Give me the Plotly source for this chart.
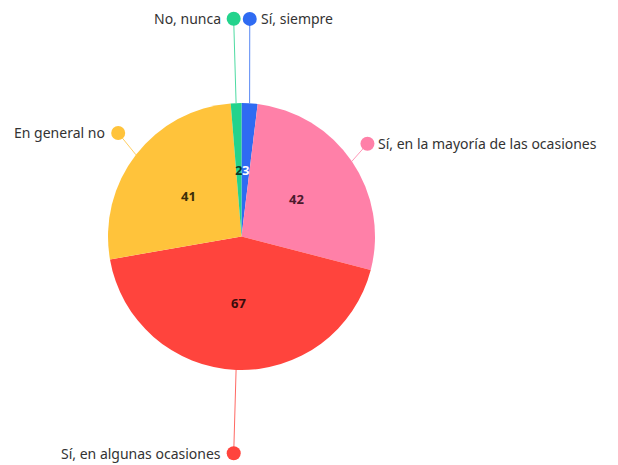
import math
import plotly.graph_objects as go

# ---- data ----
categories = ["Sí, siempre", "Sí, en la mayoría de las ocasiones",
              "Sí, en algunas ocasiones", "En general no", "No, nunca"]
values = [3, 42, 67, 41, 2]

# ---- style ----
colors = ["#2F6BF2", "#FF80A8", "#FF443D", "#FFC33B", "#23D38C"]
value_font_colors = ["#ffffff", "#4a1a2c", "#3a0c0c", "#3b2e08", "#0e3a26"]
label_radius = [218, 156, 217, 161, 218]  # px from pie center (leader-line end)
label_nudge_x = [-5, -3, 1, 4, 1]         # small layout nudges of label dots (px)
label_nudge_y = [0, -5, 0, -5, 0]
PAGE_OFF = 8  # default body margin of the html page
W, H = 618 - PAGE_OFF, 465 - PAGE_OFF
CX, CY, R = 241.5 - PAGE_OFF, 236.5 - PAGE_OFF, 133.5
VALUE_R = 0.5 * R

fig = go.Figure()
fig.add_trace(go.Pie(
    labels=categories, values=values, sort=False, direction="clockwise",
    rotation=0, textinfo="none", hoverinfo="label+value",
    marker=dict(colors=colors, line=dict(width=0)),
    domain=dict(x=[(CX - R) / W, (CX + R) / W],
                y=[(H - CY - R) / H, (H - CY + R) / H]),
    showlegend=False,
))

total = sum(values)
cum = 0
annotations = []
for i, (cat, v) in enumerate(zip(categories, values)):
    mid = (cum + v / 2) / total * 2 * math.pi
    cum += v
    sx, sy = math.sin(mid), -math.cos(mid)
    x0, y0 = CX + R * sx, CY + R * sy
    x1 = CX + label_radius[i] * sx + label_nudge_x[i]
    y1 = CY + label_radius[i] * sy + label_nudge_y[i]
    fig.add_trace(go.Scatter(x=[x0, x1], y=[y0, y1], mode="lines",
                             line=dict(color=colors[i], width=1),
                             opacity=0.8, hoverinfo="skip", showlegend=False))
    fig.add_trace(go.Scatter(x=[x1], y=[y1], mode="markers",
                             marker=dict(color=colors[i], size=14, line=dict(width=0)),
                             hoverinfo="skip", showlegend=False))
    right = sx > 0
    annotations.append(dict(
        x=x1 + (10 if right else -12), y=y1, xref="x", yref="y",
        text=cat, showarrow=False, xanchor="left" if right else "right",
        yanchor="middle", borderpad=0,
        font=dict(family="Noto Sans", size=14, color="#333333")))
    annotations.append(dict(
        x=CX + VALUE_R * sx, y=CY + VALUE_R * sy, xref="x", yref="y",
        text="<b>%d</b>" % v, showarrow=False, xanchor="center", yanchor="middle",
        font=dict(family="Noto Sans", size=13, color=value_font_colors[i])))

fig.update_layout(
    width=W, height=H, margin=dict(l=0, r=0, t=0, b=0),
    paper_bgcolor="white", plot_bgcolor="white",
    xaxis=dict(range=[0, W], visible=False, fixedrange=True),
    yaxis=dict(range=[H, 0], visible=False, fixedrange=True),
    annotations=annotations,
)
fig.write_html("out.html")
